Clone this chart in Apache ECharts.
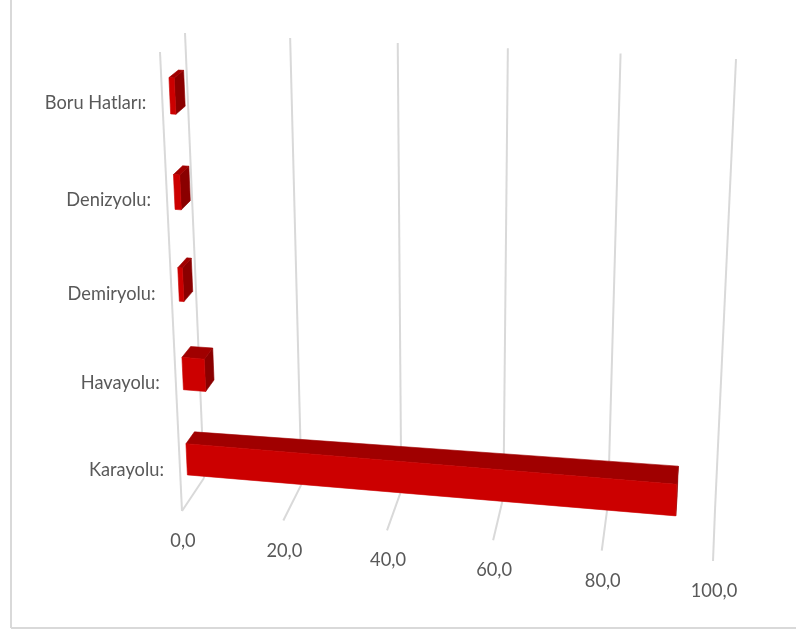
<!DOCTYPE html>
<html><head><meta charset="utf-8">
<style>html,body{margin:0;padding:0;background:#fff}#c{width:796px;height:633px}</style>
<script src="https://cdn.jsdelivr.net/npm/echarts@6/dist/echarts.min.js"></script>
</head><body><div id="c"></div>
<script>
const categories = ['Karayolu:', 'Havayolu:', 'Demiryolu:', 'Denizyolu:', 'Boru Hatları:'];
const values = [93, 4.4, 0.9, 1.2, 1.0];
const ticks = [0, 20, 40, 60, 80, 100];

// picture-space corners of the 3D box: [u(value), v(height), w(depth)]
const C = {
  '000': [182, 511], '100': [713, 561], '010': [160, 52], '110': [731, 96],
  '001': [204, 478], '101': [715, 510], '011': [185, 33], '111': [736, 59]
};
const PERSP_U = 1.06, PERSP_V = 1.1, W_FRONT = 0.30, W_BACK = 0.68, BAR_BAND = 0.37;
const GRID_COLOR = '#d9d9d9', TEXT_COLOR = '#595959', FONT = 'Lato';

function lerp(a, b, t) { return [a[0] + (b[0] - a[0]) * t, a[1] + (b[1] - a[1]) * t]; }
function warp(t, c) { return t / (c - (c - 1) * t); }
function project(u, v, w) {
  const p = warp(u, PERSP_U), q = warp(v, PERSP_V);
  const b0 = lerp(lerp(C['000'], C['100'], p), lerp(C['001'], C['101'], p), w);
  const t0 = lerp(lerp(C['010'], C['110'], p), lerp(C['011'], C['111'], p), w);
  return lerp(b0, t0, q);
}
function norm(params, api, val, cat) {
  const pt = api.coord([val, cat]);
  const r = params.coordSys;
  return [(pt[0] - r.x) / r.width, 1 - (pt[1] - r.y) / r.height];
}
function poly(points, fill) {
  return { type: 'polygon', shape: { points }, style: { fill, stroke: fill, lineWidth: 0.6 }, silent: true };
}
function line(a, b) {
  return { type: 'line', shape: { x1: a[0], y1: a[1], x2: b[0], y2: b[1] },
           style: { stroke: GRID_COLOR, lineWidth: 2 }, silent: true };
}
function label(str, p, align) {
  return { type: 'text', x: p[0], y: p[1], scaleX: 0.96, silent: true,
           style: { text: str, fill: TEXT_COLOR, font: '19px ' + FONT, align, verticalAlign: 'middle' } };
}

function renderTick(params, api) {
  const val = api.value(0);
  const u = norm(params, api, val, 0)[0];
  const kids = [
    line(project(u, 1, 1), project(u, 0, 1)),
    line(project(u, 0, 1), project(u, 0, 0))
  ];
  if (val === 0) kids.push(line(project(u, 1, 0), project(u, 0, 0)));
  const f = project(u, 0, 0);
  kids.push(label(val.toFixed(1).replace('.', ','), [f[0] + 1, f[1] + 30], 'center'));
  return { type: 'group', children: kids };
}

function renderBar(params, api) {
  const val = api.value(0), cat = api.value(1);
  const n = norm(params, api, val, cat);
  const n0 = norm(params, api, 0, cat);
  const band = api.size([0, 1])[1] / params.coordSys.height;
  const u = n[0], uL = n0[0];
  const vc = n[1], v0 = vc - band * BAR_BAND / 2, v1 = vc + band * BAR_BAND / 2;
  const P = (a, b, c) => project(a, b, c);
  const wf = W_FRONT, wb = W_BACK;
  const lab = P(uL, vc, 0);
  return { type: 'group', children: [
    poly([P(u, v0, wf), P(u, v1, wf), P(u, v1, wb), P(u, v0, wb)], '#8a0000'),
    poly([P(uL, v1, wf), P(u, v1, wf), P(u, v1, wb), P(uL, v1, wb)], '#a00000'),
    poly([P(uL, v0, wf), P(u, v0, wf), P(u, v1, wf), P(uL, v1, wf)], '#cc0000'),
    label(categories[cat], [lab[0] - 16, lab[1] + 1], 'right')
  ]};
}

const chart = echarts.init(document.getElementById('c'), null, { width: 796, height: 633 });
chart.setOption({
  animation: false,
  backgroundColor: '#ffffff',
  grid: { left: 100, right: 100, top: 100, bottom: 100 },
  xAxis: { type: 'value', min: 0, max: 100, interval: 20, show: false },
  yAxis: { type: 'category', data: categories, show: false },
  graphic: [
    { type: 'line', shape: { x1: 11, y1: 0, x2: 11, y2: 628 }, style: { stroke: GRID_COLOR, lineWidth: 2 }, silent: true },
    { type: 'line', shape: { x1: 11, y1: 628, x2: 796, y2: 628 }, style: { stroke: GRID_COLOR, lineWidth: 2 }, silent: true }
  ],
  series: [
    { type: 'custom', data: ticks.map(t => [t]), encode: { x: 0 }, renderItem: renderTick, silent: true, z: 1 },
    { type: 'custom', data: values.map((v, i) => [v, i]), encode: { x: 0, y: 1 }, renderItem: renderBar, silent: true, z: 2 }
  ]
});
</script></body></html>
